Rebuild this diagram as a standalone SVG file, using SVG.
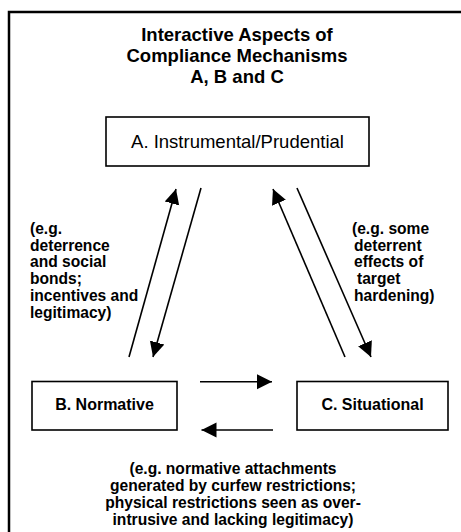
<svg xmlns="http://www.w3.org/2000/svg" width="461" height="532" viewBox="0 0 461 532">
<style>
.t{font-family:"Liberation Sans",Arial,sans-serif;fill:#000}
.b{font-weight:bold}
.box{fill:#fff;stroke:#000;stroke-width:1.6}
.ln{stroke:#000;stroke-width:1.6;fill:none}
</style>
<defs>
<marker id="ah" markerUnits="userSpaceOnUse" markerWidth="16" markerHeight="16" viewBox="0 0 16 16" refX="15" refY="8" orient="auto">
<path d="M0,0.5 L15,8 L0,15.5 Z" fill="#000"/>
</marker>
</defs>
<rect width="461" height="532" fill="#fff"/>
<path d="M9,540 V12 H470" fill="none" stroke="#000" stroke-width="2.5"/>
<g id="title">
<text class="t b" x="237" y="41" font-size="18.5" text-anchor="middle">Interactive Aspects of</text>
<text class="t b" x="237" y="62" font-size="18.5" text-anchor="middle">Compliance Mechanisms</text>
<text class="t b" x="237" y="83" font-size="18.5" text-anchor="middle">A, B and C</text>
</g>
<g id="nodeA">
<rect class="box" x="106" y="117" width="263" height="49"/>
<text class="t" x="237.5" y="148" font-size="18.5" text-anchor="middle">A. Instrumental/Prudential</text>
</g>
<g id="nodeB">
<rect class="box" x="32" y="381.5" width="145" height="48.5"/>
<text class="t b" x="104.5" y="410" font-size="16" text-anchor="middle">B. Normative</text>
</g>
<g id="nodeC">
<rect class="box" x="297" y="381.5" width="151" height="48.5"/>
<text class="t b" x="372.5" y="410" font-size="16" text-anchor="middle">C. Situational</text>
</g>
<g id="connectors">
<line class="ln" x1="129" y1="357" x2="176" y2="189" marker-end="url(#ah)"/>
<line class="ln" x1="201" y1="188" x2="153" y2="357" marker-end="url(#ah)"/>
<line class="ln" x1="345" y1="357" x2="273" y2="189" marker-end="url(#ah)"/>
<line class="ln" x1="297" y1="188" x2="371" y2="357" marker-end="url(#ah)"/>
<line class="ln" x1="200" y1="381.7" x2="272" y2="381.7" marker-end="url(#ah)"/>
<line class="ln" x1="273" y1="430" x2="201.5" y2="430" marker-end="url(#ah)"/>
</g>
<g id="labelAB" class="t b" font-size="15.6">
<text x="30" y="234">(e.g.</text>
<text x="30" y="250.7">deterrence</text>
<text x="30" y="267.4">and social</text>
<text x="30" y="284">bonds;</text>
<text x="30" y="300.8">incentives and</text>
<text x="30" y="317.5">legitimacy)</text>
</g>
<g id="labelAC" class="t b" font-size="15.6">
<text x="352" y="234">(e.g. some</text>
<text x="354" y="250.7">deterrent</text>
<text x="354" y="267.4">effects of</text>
<text x="357" y="284">target</text>
<text x="354" y="300.8">hardening)</text>
</g>
<g id="labelBC" class="t b" font-size="15.6" text-anchor="middle">
<text x="233" y="474">(e.g. normative attachments</text>
<text x="233" y="491">generated by curfew restrictions;</text>
<text x="233" y="508">physical restrictions seen as over-</text>
<text x="233" y="525">intrusive and lacking legitimacy)</text>
</g>
</svg>
